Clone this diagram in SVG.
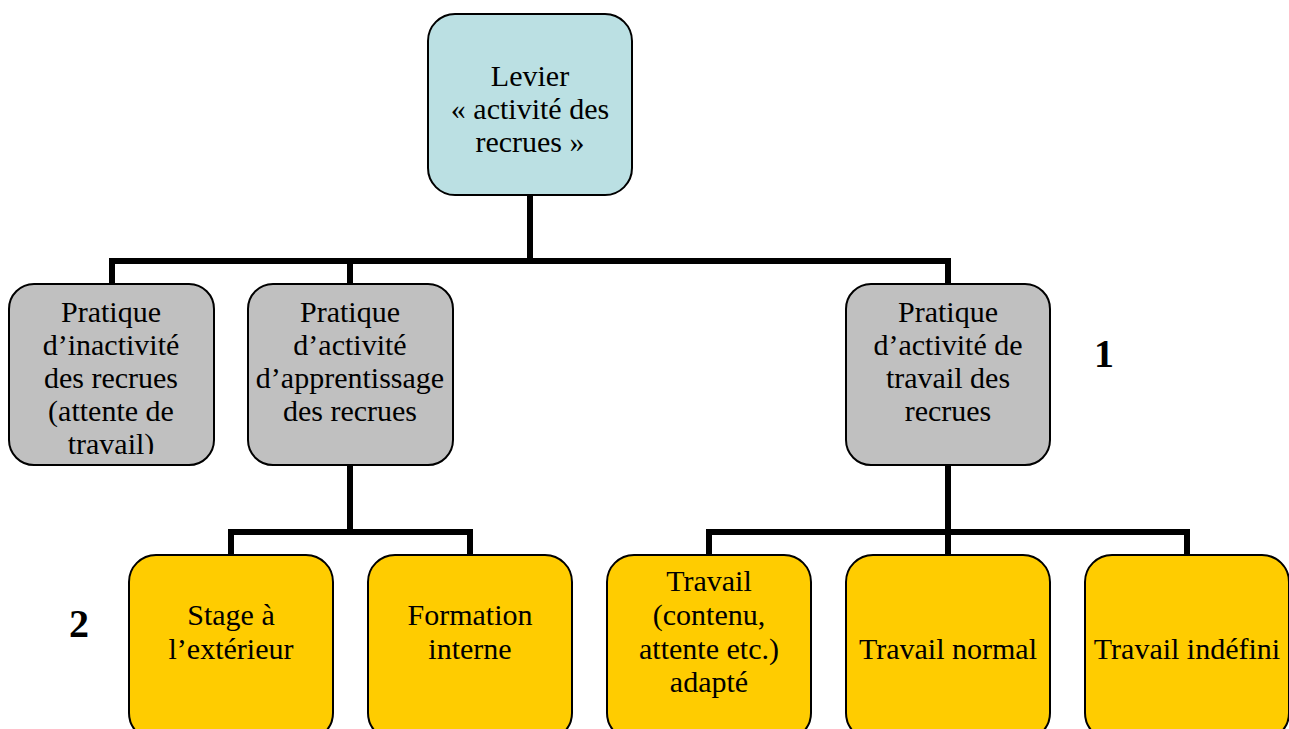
<svg xmlns="http://www.w3.org/2000/svg" width="1289" height="729" viewBox="0 0 1289 729">
  <style>
    .box { stroke: #000; stroke-width: 2; }
    .root { fill: #bbe0e3; }
    .mid { fill: #c0c0c0; }
    .leaf { fill: #ffcc00; }
    .lbl { font-family: "Liberation Serif", "Times New Roman", serif; font-size: 30px; fill: #000; text-anchor: middle; }
    .num { font-family: "Liberation Serif", "Times New Roman", serif; font-size: 40px; font-weight: bold; fill: #000; text-anchor: middle; }
    .link { fill: none; stroke: #000; stroke-width: 6; stroke-linejoin: miter; stroke-linecap: butt; }
  </style>
  <defs>
    <clipPath id="clip-inactivite">
      <rect x="9" y="285" width="205" height="169"/>
    </clipPath>
  </defs>
  <rect width="1289" height="729" fill="#fff"/>

  <g id="connectors">
    <path class="link" d="M530 195 V261 M112 284 V261 H948 V284 M350 261 V284"/>
    <path class="link" d="M350 465 V532 M231 555 V532 H470 V555"/>
    <path class="link" d="M948 465 V532 M709 555 V532 H1187 V555 M948 532 V555"/>
  </g>

  <g id="levier">
    <rect class="box root" x="428" y="14" width="204" height="181" rx="27"/>
    <text class="lbl" x="530" y="86">Levier</text>
    <text class="lbl" x="530" y="119">« activité des</text>
    <text class="lbl" x="530" y="152">recrues »</text>
  </g>

  <g id="inactivite">
    <rect class="box mid" x="9" y="284" width="205" height="181" rx="25"/>
    <g clip-path="url(#clip-inactivite)">
      <text class="lbl" x="111" y="322">Pratique</text>
      <text class="lbl" x="111" y="355">d’inactivité</text>
      <text class="lbl" x="111" y="388">des recrues</text>
      <text class="lbl" x="111" y="421">(attente de</text>
      <text class="lbl" x="111" y="454">travail)</text>
    </g>
  </g>

  <g id="apprentissage">
    <rect class="box mid" x="248" y="284" width="205" height="181" rx="25"/>
    <text class="lbl" x="350" y="322">Pratique</text>
    <text class="lbl" x="350" y="355">d’activité</text>
    <text class="lbl" x="350" y="388">d’apprentissage</text>
    <text class="lbl" x="350" y="421">des recrues</text>
  </g>

  <g id="travail">
    <rect class="box mid" x="846" y="284" width="204" height="181" rx="25"/>
    <text class="lbl" x="948" y="322">Pratique</text>
    <text class="lbl" x="948" y="355">d’activité de</text>
    <text class="lbl" x="948" y="388">travail des</text>
    <text class="lbl" x="948" y="421">recrues</text>
  </g>

  <g id="niveau-1">
    <text class="num" x="1104" y="367">1</text>
  </g>
  <g id="niveau-2">
    <text class="num" x="79" y="637">2</text>
  </g>

  <g id="stage">
    <rect class="box leaf" x="129" y="555" width="204" height="185" rx="27"/>
    <text class="lbl" x="231" y="625">Stage à</text>
    <text class="lbl" x="231" y="659">l’extérieur</text>
  </g>

  <g id="formation">
    <rect class="box leaf" x="368" y="555" width="204" height="185" rx="27"/>
    <text class="lbl" x="470" y="625">Formation</text>
    <text class="lbl" x="470" y="659">interne</text>
  </g>

  <g id="travail-adapte">
    <rect class="box leaf" x="607" y="555" width="204" height="185" rx="27"/>
    <text class="lbl" x="709" y="591">Travail</text>
    <text class="lbl" x="709" y="625">(contenu,</text>
    <text class="lbl" x="709" y="659">attente etc.)</text>
    <text class="lbl" x="709" y="692">adapté</text>
  </g>

  <g id="travail-normal">
    <rect class="box leaf" x="846" y="555" width="204" height="185" rx="27"/>
    <text class="lbl" x="948" y="659">Travail normal</text>
  </g>

  <g id="travail-indefini">
    <rect class="box leaf" x="1085" y="555" width="204" height="185" rx="27"/>
    <text class="lbl" x="1187" y="659">Travail indéfini</text>
  </g>
</svg>
